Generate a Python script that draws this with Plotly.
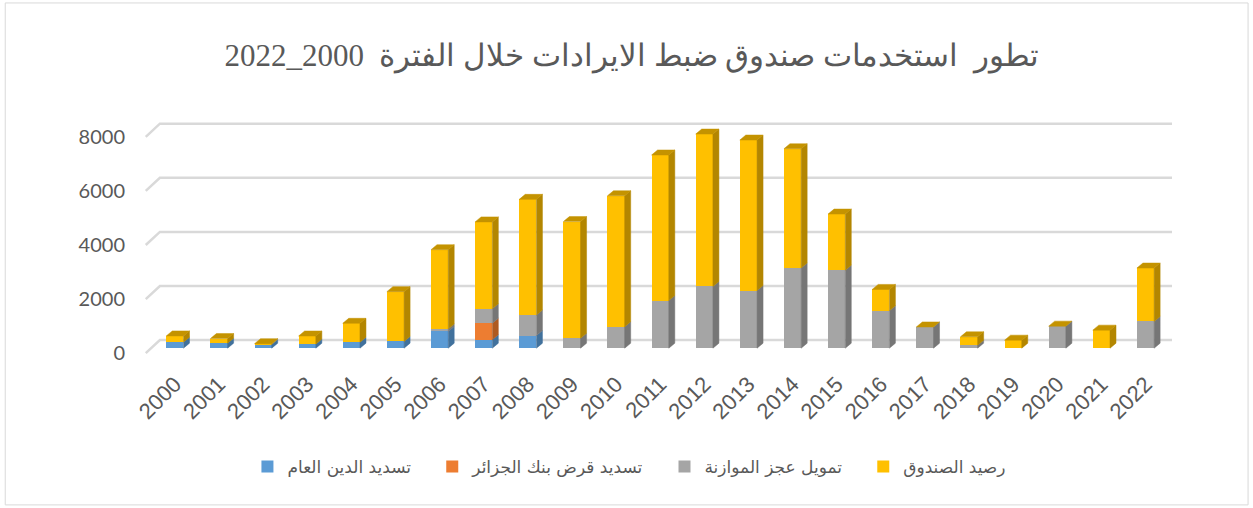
import plotly.graph_objects as go

years = [str(y) for y in range(2000, 2023)]
debt_repayment = [221, 184, 140, 150, 220, 248, 618, 314, 465, 0, 0, 0, 0, 0, 0, 0, 0, 0, 0, 0, 0, 0, 0]
bank_loan = [0, 0, 0, 0, 0, 0, 0, 608, 0, 0, 0, 0, 0, 0, 0, 0, 0, 0, 0, 0, 0, 0, 0]
deficit_financing = [0, 0, 0, 0, 0, 0, 92, 532, 758, 364, 792, 1761, 2283, 2132, 2966, 2886, 1388, 785, 110, 0, 815, 0, 990]
fund_balance = [232, 171, 25, 300, 700, 1843, 2931, 3215, 4280, 4316, 4843, 5382, 5634, 5564, 4408, 2073, 785, 0, 310, 296, 0, 667, 1973]

names = ["تسديد الدين العام", "تسديد قرض بنك الجزائر", "تمويل عجز الموازنة", "رصيد الصندوق"]
title_text = "تطور  استخدمات صندوق ضبط الايرادات خلال الفترة  2000_2022"
y_ticks = [0, 2000, 4000, 6000, 8000]

front_colors = ["#5B9BD5", "#ED7D31", "#A5A5A5", "#FFC000"]
side_colors = ["#41719C", "#AE5A21", "#767676", "#B38600"]
top_color = "#C49300"

series = [debt_repayment, bank_loan, deficit_financing, fund_balance]
n = len(years)
xs = list(range(n))
W = 0.39      # bar width (category units)
DX = 0.136    # 3D depth, x
DY = 185      # 3D depth, y
LBL_SHIFT = 185
GRID_SHIFT = 300
PAD = "\u00a0\u00a0\u00a0"  # extra spacing after legend text

fig = go.Figure()

# back-wall gridlines (main axis = label axis)
gx, gy = [], []
for v in y_ticks:
    gx += [-0.66, -0.34, 22.6, None]
    gy += [v, v + LBL_SHIFT + GRID_SHIFT, v + LBL_SHIFT + GRID_SHIFT, None]
fig.add_trace(go.Scatter(x=gx, y=gy, mode="lines", line=dict(color="#D9D9D9", width=2.5),
                         showlegend=False, hoverinfo="skip"))

for s, name, fc in zip(series, names, front_colors):
    fig.add_trace(go.Bar(x=xs, y=s, name=name + PAD, width=W, yaxis="y2",
                         marker=dict(color=fc, line=dict(width=0))))

base = [0] * n
for s, sc in zip(series, side_colors):
    px, py = [], []
    for i in range(n):
        b, h = base[i], s[i]
        if h > 0:
            x1 = xs[i] + W / 2
            px += [x1, x1 + DX, x1 + DX, x1, x1, None]
            py += [b, b + DY, b + h + DY, b + h, b, None]
        base[i] = b + h
    fig.add_trace(go.Scatter(x=px, y=py, mode="lines", fill="toself", fillcolor=sc,
                             line=dict(width=0.5, color=sc), yaxis="y2",
                             showlegend=False, hoverinfo="skip"))

tx, ty = [], []
for i in range(n):
    t = base[i]
    x0, x1 = xs[i] - W / 2, xs[i] + W / 2
    tx += [x0, x0 + DX, x1 + DX, x1, x0, None]
    ty += [t, t + DY, t + DY, t, t, None]
fig.add_trace(go.Scatter(x=tx, y=ty, mode="lines", fill="toself", fillcolor=top_color,
                         line=dict(width=0.5, color=top_color), yaxis="y2",
                         showlegend=False, hoverinfo="skip"))

fig.update_layout(
    width=1253, height=508,
    margin=dict(l=144, r=81, t=121, b=149),
    paper_bgcolor="white", plot_bgcolor="white",
    barmode="stack",
    title=dict(text=title_text, x=0.504, xanchor="center", y=0.892, yanchor="middle",
               font=dict(family="Liberation Serif, Times New Roman, serif", size=31, color="#595959")),
    xaxis=dict(range=[-0.7, 22.6], tickmode="array", tickvals=xs, ticktext=years, tickangle=-45,
               showgrid=False, zeroline=False, showline=False, ticks="", ticklabelstandoff=7,
               tickfont=dict(family="Liberation Sans, Arial", size=22, color="#595959")),
    yaxis=dict(range=[-215, 8585], tickmode="array", tickvals=y_ticks, showgrid=False,
               zeroline=False, showline=False, ticks="", ticklabelstandoff=18,
               tickfont=dict(family="Lato, Calibri, sans-serif", size=20, color="#595959")),
    yaxis2=dict(range=[-400, 8400], overlaying="y", visible=False),
    legend=dict(orientation="h", x=0.48, xanchor="center", y=-0.454, yanchor="middle",
                traceorder="normal", font=dict(family="DejaVu Sans, Arial", size=17, color="#595959")),
    shapes=[dict(type="rect", xref="paper", yref="paper", x0=-0.135, x1=1.074, y0=-0.613, y1=1.496,
                 line=dict(color="#D9D9D9", width=1), layer="below")],
)

fig.write_html("out.html", config={"displayModeBar": False},
               post_script="document.body.style.margin='0';document.body.style.overflow='hidden';")
